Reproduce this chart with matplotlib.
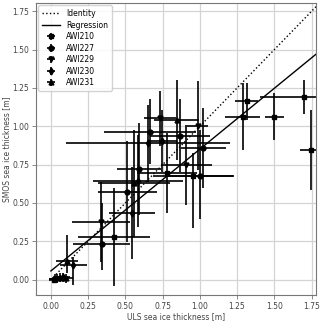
import numpy as np
import matplotlib
matplotlib.use("Agg")
import matplotlib.pyplot as plt

# ---------------------------------------------------------------------------
# data (ULS vs SMOS ice thickness, metres)
# ---------------------------------------------------------------------------
labels = ["AWI210", "AWI227", "AWI229", "AWI230", "AWI231"]
markers = ["s", "o", "v", "d", "^"]

awi210_x = [0.020, 0.423, 0.781, 0.956, 1.287, 1.315, 1.501, 1.701, 1.745]
awi210_y = [0.000, 0.281, 0.694, 0.678, 1.063, 1.164, 1.063, 1.190, 0.846]
awi210_xerr = [0.03, 0.24, 0.20, 0.27, 0.115, 0.078, 0.065, 0.30, 0.07]
awi210_yerr_lo = [0.02, 0.32, 0.26, 0.34, 0.22, 0.12, 0.155, 0.11, 0.26]
awi210_yerr_hi = [0.02, 0.32, 0.26, 0.15, 0.22, 0.12, 0.155, 0.11, 0.26]

awi227_x = [0.030, 0.060, 0.340, 0.513, 0.591, 0.665, 0.866, 0.998, 1.023]
awi227_y = [0.005, 0.012, 0.233, 0.574, 0.722, 0.966, 0.940, 0.678, 0.861]
awi227_xerr = [0.04, 0.05, 0.19, 0.20, 0.15, 0.31, 0.20, 0.23, 0.15]
awi227_yerr_lo = [0.03, 0.03, 0.17, 0.33, 0.30, 0.21, 0.24, 0.28, 0.26]
awi227_yerr_hi = [0.03, 0.03, 0.27, 0.33, 0.30, 0.21, 0.24, 0.30, 0.26]

awi229_x = [0.040, 0.338, 0.732, 0.909, 0.987]
awi229_y = [0.005, 0.378, 1.053, 0.748, 1.005]
awi229_xerr = [0.05, 0.195, 0.11, 0.17, 0.07]
awi229_yerr_lo = [0.03, 0.26, 0.18, 0.26, 0.29]
awi229_yerr_hi = [0.03, 0.26, 0.18, 0.26, 0.29]

awi230_x = [0.080, 0.150, 0.542, 0.584, 0.651, 0.748]
awi230_y = [0.015, 0.096, 0.433, 0.646, 0.890, 0.905]
awi230_xerr = [0.05, 0.09, 0.155, 0.30, 0.55, 0.10]
awi230_yerr_lo = [0.03, 0.13, 0.30, 0.30, 0.25, 0.20]
awi230_yerr_hi = [0.03, 0.054, 0.30, 0.30, 0.25, 0.20]

awi231_x = [0.100, 0.110, 0.557, 0.844]
awi231_y = [0.008, 0.122, 0.629, 1.042]
awi231_xerr = [0.05, 0.073, 0.24, 0.15]
awi231_yerr_lo = [0.03, 0.08, 0.35, 0.26]
awi231_yerr_hi = [0.03, 0.17, 0.35, 0.26]

reg_slope = 0.794
reg_intercept = 0.057

series = [
    (awi210_x, awi210_y, awi210_xerr, awi210_yerr_lo, awi210_yerr_hi),
    (awi227_x, awi227_y, awi227_xerr, awi227_yerr_lo, awi227_yerr_hi),
    (awi229_x, awi229_y, awi229_xerr, awi229_yerr_lo, awi229_yerr_hi),
    (awi230_x, awi230_y, awi230_xerr, awi230_yerr_lo, awi230_yerr_hi),
    (awi231_x, awi231_y, awi231_xerr, awi231_yerr_lo, awi231_yerr_hi),
]

# ---------------------------------------------------------------------------
# figure
# ---------------------------------------------------------------------------
fig, ax = plt.subplots(figsize=(3.20, 3.21), dpi=100)
fig.subplots_adjust(left=0.1125, right=0.9875, top=0.991, bottom=0.081)

line = np.array([0.0, 1.8])
ax.plot(line, line, ":", color="black", lw=1.0, label="Identity")
ax.plot(line, reg_intercept + reg_slope * line, "-", color="black", lw=1.0,
        label="Regression")

for (x, y, xe, ylo, yhi), lab, m in zip(series, labels, markers):
    ax.errorbar(x, y, xerr=xe, yerr=[ylo, yhi], fmt=m, color="black",
                ecolor="black", elinewidth=1.2, markersize=3.5, capsize=0,
                label=lab)

ax.set_xlim(-0.1, 1.78)
ax.set_ylim(-0.1, 1.805)
ticks = [0.0, 0.25, 0.5, 0.75, 1.0, 1.25, 1.5, 1.75]
ax.set_xticks(ticks)
ax.set_yticks(ticks)
ax.grid(True, color="#d4d4d4", lw=0.9)
ax.set_axisbelow(True)

for sp in ax.spines.values():
    sp.set_color("#777777")
ax.tick_params(labelsize=5.5, colors="#444444", length=3, width=0.6,
               color="#777777", pad=2)
ax.set_xlabel("ULS sea ice thickness [m]", fontsize=5.5, color="#444444",
              labelpad=1)
ax.set_ylabel("SMOS sea ice thickness [m]", fontsize=5.5, color="#444444",
              labelpad=1)

ax.legend(loc="upper left", fontsize=5.5, framealpha=0.85, handlelength=2.3,
          borderaxespad=0.3, labelspacing=0.33, borderpad=0.5,
          edgecolor="#cccccc")

plt.savefig("out.png", dpi=100)
